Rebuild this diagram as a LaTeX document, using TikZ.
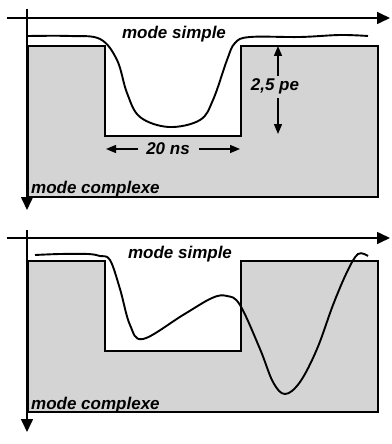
\documentclass[tikz,border=0pt]{standalone}
\usepackage{fontspec}
\setmainfont{Liberation Sans}
\usetikzlibrary{arrows.meta}
\definecolor{lightgrey}{RGB}{212,212,212}

\begin{document}
\begin{tikzpicture}[x=1pt, y=-1pt,
        axis/.style={line width=1.6pt, -{Triangle[length=13pt, width=12pt]}},
        dimarrow/.style={line width=1.4pt, -{Triangle[length=10pt, width=8pt]}},
        well/.style={draw=black, line width=1.8pt, fill=lightgrey},
        pulse/.style={line width=1.9pt, smooth, tension=0.6},
        label/.style={font=\fontsize{17}{20}\selectfont\bfseries\itshape, inner sep=0pt}]

    \useasboundingbox (0,0) rectangle (391,444);

    % Top panel: simple mode
    \draw[well] (28,46) -- (105,46) -- (105,136) -- (241,136) -- (241,46) -- (378,46)
        -- (378,197) -- (28,197) -- cycle;
    \coordinate (XA) at (7,18);   \coordinate (XB) at (390,18);
    \coordinate (YA) at (27,9);   \coordinate (YB) at (27,210);
    \draw[axis] (XA) -- (XB);
    \draw[axis] (YA) -- (YB);
    \draw[pulse] plot coordinates {(28,36) (70,36) (100,39) (117,60) (127,93) (140,117)
        (169,127) (200,120) (213,100) (227,60) (235,43) (250,37) (300,37) (340,35) (368,36)};
    \node[label] (SIMPLE1) at (174,34) {mode simple};
    \node[label, anchor=west] (COMPLEX1) at (31,189) {mode complexe};
    \node[label] (HEIGHT) at (275,86) {2,5 pe};
    \node[label] (WIDTH) at (168,149) {20 ns};
    % dimension arrows
    \coordinate (HS1) at (278,76);  \coordinate (HT) at (278,46);
    \coordinate (HS2) at (278,98);  \coordinate (HB) at (278,134);
    \coordinate (WS1) at (138,149); \coordinate (WL) at (106,149);
    \coordinate (WS2) at (199,149); \coordinate (WR) at (240,149);
    \draw[dimarrow] (HS1) -- (HT);
    \draw[dimarrow] (HS2) -- (HB);
    \draw[dimarrow] (WS1) -- (WL);
    \draw[dimarrow] (WS2) -- (WR);

    % Bottom panel: complex mode
    \draw[well] (28,261) -- (105,261) -- (105,351) -- (241,351) -- (241,261) -- (378,261)
        -- (378,412) -- (28,412) -- cycle;
    \coordinate (XC) at (7,238);  \coordinate (XD) at (390,238);
    \coordinate (YC) at (27,230); \coordinate (YD) at (27,432);
    \draw[axis] (XC) -- (XD);
    \draw[axis] (YC) -- (YD);
    \draw[pulse] plot coordinates {(35,255) (60,254) (88,254) (100,256) (110,260) (120,289)
        (130,325) (143,339) (183,315) (212,298) (227,296) (240,305) (260,349) (273,382)
        (285,394) (300,382) (317,349) (333,305) (347,272) (358,254) (368,256)};
    \node[label] (SIMPLE2) at (180,254) {mode simple};
    \node[label, anchor=west] (COMPLEX2) at (31,405) {mode complexe};

\end{tikzpicture}
\end{document}
